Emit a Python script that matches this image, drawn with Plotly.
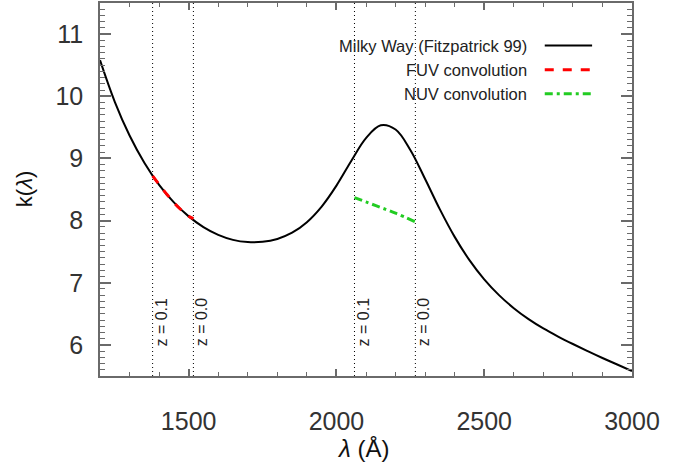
import plotly.graph_objects as go

# Milky Way extinction curve, Fitzpatrick (1999), R_V = 3.1
wavelength = [1200, 1250, 1300, 1350, 1400, 1450, 1500, 1550, 1600, 1650,
              1700, 1750, 1800, 1850, 1900, 1950, 2000, 2050, 2100, 2150,
              2200, 2250, 2300, 2350, 2400, 2450, 2500, 2550, 2600, 2650,
              2700, 2750, 2800, 2850, 2900, 2950, 3000]
k_mw = [10.581, 9.911, 9.368, 8.930, 8.576, 8.292, 8.068, 7.896, 7.771, 7.690,
        7.654, 7.658, 7.705, 7.805, 7.975, 8.226, 8.563, 8.959, 9.327, 9.533,
        9.465, 9.137, 8.669, 8.180, 7.738, 7.364, 7.055, 6.801, 6.591, 6.415,
        6.265, 6.135, 6.015, 5.900, 5.790, 5.685, 5.580]

# curve convolved with the GALEX FUV filter, redshifted from z = 0.1 to z = 0.0
fuv_wavelength = [1378, 1400, 1425, 1450, 1475, 1500, 1516]
fuv_k = [8.72, 8.58, 8.43, 8.29, 8.17, 8.07, 8.03]

# curve convolved with the GALEX NUV filter, redshifted from z = 0.1 to z = 0.0
nuv_wavelength = [2061, 2100, 2150, 2200, 2267]
nuv_k = [8.37, 8.30, 8.21, 8.12, 7.98]

# filter effective wavelengths at each redshift
z_line_wavelength = [1378, 1516, 2061, 2267]
z_line_labels = ["z = 0.1", "z = 0.0", "z = 0.1", "z = 0.0"]

x_ticks = [1500, 2000, 2500, 3000]
y_ticks = [6, 7, 8, 9, 10, 11]

legend_names = ["Milky Way (Fitzpatrick 99)", "FUV convolution", "NUV convolution"]
legend_colors = ["black", "#ff0000", "#22cc22"]
legend_dashes = ["solid", "dash", "8px,4px,3px,4px"]

FONT = "Liberation Sans, Arial, Helvetica, sans-serif"
AXIS_GREY = "#6a6a6a"

fig = go.Figure()

fig.add_trace(go.Scatter(
    x=wavelength, y=k_mw, mode="lines",
    line=dict(color=legend_colors[0], width=2, shape="spline", smoothing=1.0),
    showlegend=False, hoverinfo="skip"))
fig.add_trace(go.Scatter(
    x=fuv_wavelength, y=fuv_k, mode="lines",
    line=dict(color=legend_colors[1], width=3, dash=legend_dashes[1], shape="spline"),
    showlegend=False, hoverinfo="skip"))
fig.add_trace(go.Scatter(
    x=nuv_wavelength, y=nuv_k, mode="lines",
    line=dict(color=legend_colors[2], width=3, dash=legend_dashes[2], shape="spline"),
    showlegend=False, hoverinfo="skip"))

shapes = []
annotations = []

# dotted markers for the filter positions with rotated redshift labels
for lam, lab in zip(z_line_wavelength, z_line_labels):
    shapes.append(dict(type="line", xref="x", yref="paper", x0=lam, x1=lam, y0=0, y1=1,
                       line=dict(color="black", width=1, dash="1px,3px")))
    annotations.append(dict(x=lam, y=6.37, xref="x", yref="y", text=lab, textangle=-90,
                            showarrow=False, xanchor="center", yanchor="middle", xshift=9,
                            font=dict(family=FONT, size=16, color="#222")))

# hand-placed legend in the upper right corner
legend_y = [0.886, 0.821, 0.757]
for name, col, dash, yy in zip(legend_names, legend_colors, legend_dashes, legend_y):
    annotations.append(dict(x=0.806, y=yy, xref="paper", yref="paper", text=name,
                            showarrow=False, xanchor="right", yanchor="middle",
                            font=dict(family=FONT, size=16.5, color="#222")))
    shapes.append(dict(type="line", xref="paper", yref="paper", x0=0.836, x1=0.925,
                       y0=yy, y1=yy,
                       line=dict(color=col, width=2 if dash == "solid" else 3, dash=dash)))

# axis titles
annotations.append(dict(x=0.494, y=0, xref="paper", yref="paper", text="<i>λ</i> (Å)",
                        showarrow=False, xanchor="center", yanchor="middle", yshift=-72,
                        font=dict(family=FONT, size=24, color="#111")))
annotations.append(dict(x=0, y=0.501, xref="paper", yref="paper", text="k(<i>λ</i>)",
                        textangle=-90, showarrow=False, xanchor="center", yanchor="middle",
                        xshift=-76, font=dict(family=FONT, size=22, color="#111")))

fig.update_layout(
    width=691, height=469,
    margin=dict(l=100, r=59, t=1, b=93),
    paper_bgcolor="white", plot_bgcolor="white",
    shapes=shapes, annotations=annotations,
    showlegend=False,
    xaxis=dict(
        range=[1200, 3000], tickvals=x_ticks, ticks="inside", ticklen=7,
        tickwidth=1.5, tickcolor=AXIS_GREY, showline=True, linecolor=AXIS_GREY,
        linewidth=1.5, mirror="ticks", showgrid=False, zeroline=False,
        minor=dict(dtick=100, ticks="inside", ticklen=4, tickwidth=1.2,
                   tickcolor=AXIS_GREY, showgrid=False),
        tickfont=dict(family=FONT, size=25, color="#333"), ticklabelstandoff=22),
    yaxis=dict(
        range=[5.5, 11.5], tickvals=y_ticks, ticks="inside", ticklen=11,
        tickwidth=1.5, tickcolor=AXIS_GREY, showline=True, linecolor=AXIS_GREY,
        linewidth=1.5, mirror="ticks", showgrid=False, zeroline=False,
        minor=dict(dtick=0.1, ticks="inside", ticklen=5, tickwidth=1.2,
                   tickcolor=AXIS_GREY, showgrid=False),
        tickfont=dict(family=FONT, size=25, color="#333"), ticklabelstandoff=10),
)

fig.write_html("out.html")
